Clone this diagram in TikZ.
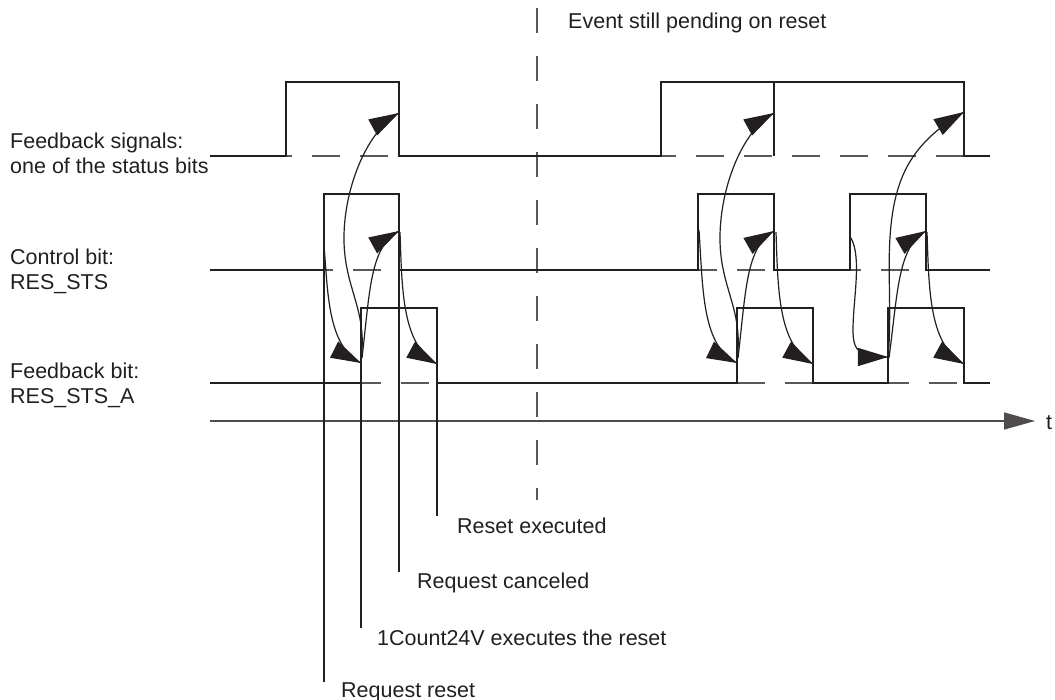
\documentclass[tikz,border=0pt]{standalone}
\usepackage{fontspec}
\setmainfont{Liberation Sans}
\usetikzlibrary{arrows.meta,decorations.markings}
\definecolor{ink}{HTML}{231F20}
\tikzset{
  sig/.style={line width=2.6pt, draw=ink, line join=miter, line cap=butt},
  dsh/.style={line width=1.2pt, draw=ink!75, dash pattern=on 28pt off 20pt},
  vdsh/.style={line width=1.2pt, draw=ink!75, dash pattern=on 25pt off 23pt},
  thinln/.style={line width=1.2pt, draw=ink},
  conn/.style={line width=1.2pt, draw=ink},
  arr/.style={conn, decoration={markings, mark=at position 0.9999 with {\arrow[ink]{Triangle[length=30pt,width=18pt]}}}, postaction={decorate}},
  axis/.style={line width=1.5pt, draw=ink!80, -{Triangle[length=31pt,width=17pt]}},
  lbl/.style={anchor=base west, inner sep=0pt, text=ink, font=\fontsize{21.5}{25}\selectfont},
}
\begin{document}
\begin{tikzpicture}[x=1pt,y=-1pt]
\useasboundingbox (0,0) rectangle (1055,700);
% ---- dashed reference levels
\draw[dsh, dash phase=22pt] (286,156) -- (399,156);
\draw[dsh, dash phase=13pt] (661,156) -- (964,156);
\draw[dsh, dash phase=19pt] (324,270) -- (399,270);
\draw[dsh, dash phase=9pt]  (698,270) -- (774,270);
\draw[dsh, dash phase=17pt] (850,270) -- (926,270);
\draw[dsh, dash phase=8pt]  (361,383) -- (437,383);
\draw[dsh, dash phase=0pt]  (737,383) -- (813,383);
\draw[dsh, dash phase=7pt]  (888,383) -- (964,383);
% ---- vertical divider
\draw[vdsh] (537,8) -- (537,500);
% ---- time axis
\coordinate (t0) at (210,421);
\coordinate (t1) at (1035,421);
\draw[axis] (t0) -- (t1);
\node[lbl] (tl) at (1046,430) {t};
% ---- signals
\draw[sig] (210,156) -- (286,156) -- (286,82) -- (399,82) -- (399,156) -- (661,156)
  -- (661,82) -- (964,82) -- (964,156) -- (990,156);
\draw[sig] (774,82) -- (774,156);
\draw[sig] (210,270) -- (324,270) -- (324,194) -- (399,194) -- (399,270) -- (698,270)
  -- (698,194) -- (774,194) -- (774,270) -- (850,270) -- (850,194) -- (926,194)
  -- (926,270) -- (990,270);
\draw[sig] (210,383) -- (361,383) -- (361,308) -- (437,308) -- (437,383) -- (737,383)
  -- (737,308) -- (813,308) -- (813,383) -- (888,383) -- (888,308) -- (964,308)
  -- (964,383) -- (990,383);
% ---- labels
\node[lbl] (l1a) at (10,149) {Feedback signals:};
\node[lbl] (l1b) at (10,174) {one of the status bits};
\node[lbl] (l2a) at (10,265) {Control bit:};
\node[lbl] (l2b) at (10,290) {RES\_STS};
\node[lbl] (l3a) at (10,379) {Feedback bit:};
\node[lbl] (l3b) at (10,404) {RES\_STS\_A};
\node[lbl] (ev) at (568,29) {Event still pending on reset};
% ---- explanation lines
\coordinate (v1t) at (324,270); \coordinate (v1b) at (324,682);
\coordinate (v2t) at (361,383); \coordinate (v2b) at (361,628);
\coordinate (v3t) at (399,270); \coordinate (v3b) at (399,572);
\coordinate (v4t) at (437,383); \coordinate (v4b) at (437,516);
\draw[thinln] (v1t) -- (v1b);
\draw[thinln] (v2t) -- (v2b);
\draw[thinln] (v3t) -- (v3b);
\draw[thinln] (v4t) -- (v4b);
\node[lbl] (n4) at (457,533) {Reset executed};
\node[lbl] (n3) at (417,588) {Request canceled};
\node[lbl] (n2) at (377,645) {1Count24V executes the reset};
\node[lbl] (n1) at (341,697) {Request reset};
% ---- group 1 (left)
\coordinate (Las) at (324,246); \coordinate (Lae) at (361,363);
\coordinate (Lbs) at (361,360); \coordinate (Lbe) at (399,113);
\coordinate (Lcs) at (362,358); \coordinate (Lce) at (399,231);
\coordinate (Lds) at (400,232); \coordinate (Lde) at (437,364);
\draw[arr] (Las) .. controls +(4,44) and +(-34,-17) .. (Lae);
\draw[arr] (Lbs) .. controls +(7,-52) and +(-1,53) .. (344,235) .. controls +(1,-50) and +(-31,17) .. (Lbe);
\draw[arr] (Lcs) .. controls +(8,-68) and +(-29,16) .. (Lce);
\draw[arr] (Lds) .. controls +(2,58) and +(-35,-19) .. (Lde);
% ---- group 2
\coordinate (Mas) at (699,230); \coordinate (Mae) at (737,363);
\coordinate (Mbs) at (737,360); \coordinate (Mbe) at (774,113);
\coordinate (Mcs) at (738,358); \coordinate (Mce) at (774,231);
\coordinate (Mds) at (776,232); \coordinate (Mde) at (813,364);
\draw[arr] (Mas) .. controls +(4,60) and +(-35,-17) .. (Mae);
\draw[arr] (Mbs) .. controls +(7,-52) and +(-1,53) .. (720,235) .. controls +(1,-50) and +(-31,17) .. (Mbe);
\draw[arr] (Mcs) .. controls +(8,-68) and +(-28,16) .. (Mce);
\draw[arr] (Mds) .. controls +(2,58) and +(-35,-19) .. (Mde);
% ---- group 3
\coordinate (Ras) at (851,238); \coordinate (Rae) at (888,357);
\coordinate (Rbs) at (888,360); \coordinate (Rbe) at (964,112);
\coordinate (Rcs) at (889,358); \coordinate (Rce) at (926,231);
\coordinate (Rds) at (927,232); \coordinate (Rde) at (964,364);
\draw[arr] (Ras) .. controls +(11,20) and +(0,-30) .. (853,330) .. controls +(0,22) and +(-28,0) .. (Rae);
\draw[arr] (Rbs) .. controls +(5,-60) and +(-11,50) .. (895,200) .. controls +(7,-30) and +(-48,28) .. (Rbe);
\draw[arr] (Rcs) .. controls +(9,-68) and +(-28,16) .. (Rce);
\draw[arr] (Rds) .. controls +(2,58) and +(-35,-19) .. (Rde);
\end{tikzpicture}
\end{document}
